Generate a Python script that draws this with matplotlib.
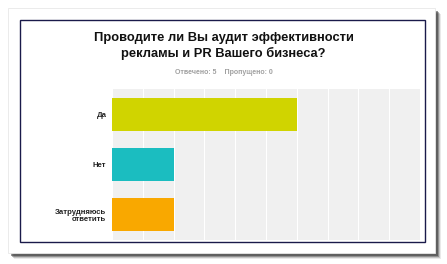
import matplotlib.pyplot as plt
from matplotlib.patches import Rectangle

# Survey answers (percent of 5 respondents)
categories = ['Да', 'Нет', 'Затрудняюсь\nответить']
percents = [60, 20, 20]
bar_colors = ['#d0d400', '#1bbdc0', '#f9a800']
title = 'Проводите ли Вы аудит эффективности\nрекламы и PR Вашего бизнеса?'
subtitle = 'Отвечено: 5    Пропущено: 0'

W, H = 447, 264
plt.rcParams['font.family'] = ['Liberation Sans', 'DejaVu Sans']

fig = plt.figure(figsize=(W / 100, H / 100), dpi=100)
fig.patch.set_facecolor('white')


def px_rect(x0, y0, x1, y1, **kw):
    # rectangle given in pixel coords (origin top-left)
    return Rectangle((x0 / W, 1 - y1 / H), (x1 - x0) / W, (y1 - y0) / H,
                     transform=fig.transFigure, zorder=-5, **kw)


# card shadow, card and navy frame
for off, a in [(6, 0.10), (5, 0.2), (4, 0.35), (3, 0.5)]:
    fig.patches.append(px_rect(8 + off, 8 + off, 435 + off, 253 + off,
                               facecolor='#303030', alpha=a, edgecolor='none'))
fig.patches.append(px_rect(8, 8, 435, 253, facecolor='white',
                           edgecolor='#e8e8e8', linewidth=0.6))
fig.patches.append(px_rect(20, 20, 425, 242, facecolor='white',
                           edgecolor='#1a1a4a', linewidth=1.0))

fig.text(0.5, 1 - 46 / H, title, ha='center', va='center', fontsize=9.3,
         fontweight='bold', color='#111111', linespacing=1.2)
fig.text(0.5, 1 - 72 / H, subtitle, ha='center', va='center', fontsize=5,
         fontweight='bold', color='#a0a0a0')

ax = fig.add_axes([112 / W, 1 - 240 / H, 308 / W, 151 / H])
ax.set_zorder(5)
ax.set_facecolor('#f0f0f0')
y = list(range(len(categories)))
ax.barh(y, percents, height=0.65, color=bar_colors, zorder=3)
ax.set_xlim(0, 100)
ax.set_ylim(len(categories) - 0.5, -0.5)
ax.set_xticks(range(0, 101, 10))
ax.grid(axis='x', color='white', linewidth=0.8, zorder=1)
ax.tick_params(axis='x', length=0, labelbottom=False)
ax.tick_params(axis='y', length=0, pad=4)
ax.set_yticks(y)
ax.set_yticklabels(categories, fontsize=5.6, color='#222222', linespacing=1.0,
                   fontweight='semibold')
for s in ax.spines.values():
    s.set_visible(False)

fig.savefig('out.png', dpi=100)
